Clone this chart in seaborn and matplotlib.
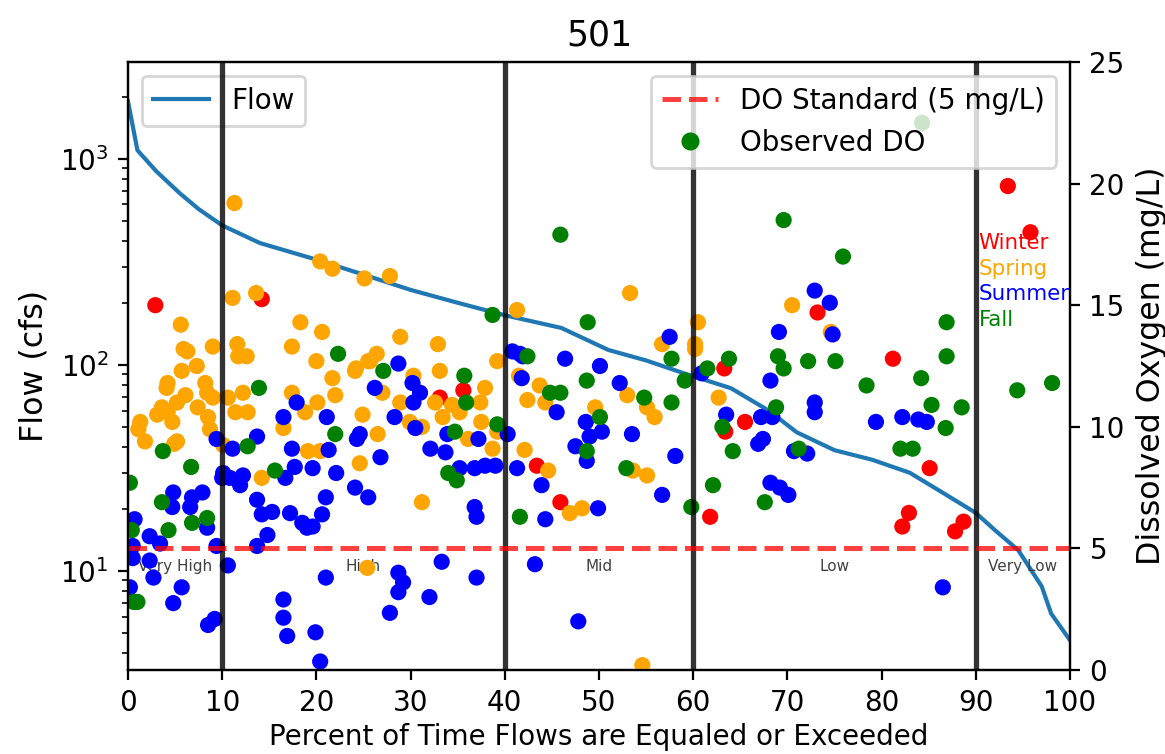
import matplotlib
matplotlib.use("Agg")
import matplotlib.pyplot as plt
from matplotlib.lines import Line2D
import seaborn as sns
import pandas as pd

# ---------------- data ----------------
flow_pct = [0, 1, 3, 5.5, 7.5, 10, 14, 20, 25, 30, 35, 40, 46, 51, 55, 59, 64, 68, 71, 75, 79, 83,
            86, 90, 92, 94.5, 97, 98, 100]
flow_cfs = [1900, 1100, 870, 680, 570, 475, 390, 324, 274, 231, 200, 174, 151, 118, 105, 91, 77, 60,
            47, 38.5, 34.6, 29.9, 24.7, 19.1, 15.8, 12.6, 8.4, 6.2, 4.6]

winter_x = [2.9, 14.2, 33.1, 35.6, 43.4, 45.9, 63.3, 65.5, 63.4, 73.2, 61.8, 81.2, 85.1, 82.9,
            82.2, 88.7, 87.8, 93.4, 95.8]
winter_do = [15.0, 15.25, 11.2, 11.5, 8.4, 6.9, 12.4, 10.2, 9.8, 14.7, 6.3, 12.8, 8.3, 6.46,
             5.9, 6.1, 5.7, 19.9, 18.0]

spring_x = [11.3, 20.4, 21.7, 25.1, 27.8, 11.1, 13.6, 5.6, 18.3, 20.6, 5.9, 6.3, 9.0, 11.6, 12.6,
            11.7, 17.4, 20.0, 24.2, 25.5, 28.9, 32.9, 41.3, 26.4, 25.7, 39.2,
            7.3, 5.7, 4.2, 4.1, 6.1, 5.2, 8.2, 8.4, 9.0, 10.6, 12.2, 3.6, 3.1, 4.2, 4.7, 1.3, 1.1,
            1.8, 7.4, 8.5, 8.7, 5.2, 4.9, 11.4, 12.7, 10.1,
            21.7, 22.0, 24.1, 17.4, 18.8, 20.1, 16.5, 19.1, 20.4, 14.2, 24.6, 24.9, 25.4,
            33.1, 30.3, 27.0, 37.9, 41.5, 43.7, 28.9, 32.6, 34.4, 35.2, 37.4, 33.4, 29.9, 31.2,
            37.5, 39.2, 26.5, 36.1, 38.7, 42.4, 44.3, 42.1, 44.6, 49.6,
            31.2, 46.9, 48.2,
            53.3, 56.7, 60.5, 60.2, 60.2, 53.0, 55.1, 55.9, 62.7, 70.5, 74.6, 53.6, 55.1, 54.6]
spring_do = [19.2, 16.8, 16.5, 16.1, 16.2, 15.3, 15.5, 14.2, 14.3, 13.9, 13.2, 13.1, 13.3, 13.4, 12.9,
             12.9, 13.3, 12.7, 12.4, 12.7, 13.7, 13.4, 14.8, 13.0, 12.7, 12.7,
             12.5, 12.3, 11.8, 11.6, 11.3, 11.0, 11.8, 11.4, 11.2, 11.2, 11.4, 10.8, 10.5, 10.6, 10.2,
             10.2, 9.9, 9.4, 10.8, 10.4, 9.9, 9.4, 9.3, 10.6, 10.6, 9.25,
             12.0, 11.3, 12.3, 11.4, 10.6, 11.0, 9.95, 9.0, 9.0, 7.9, 8.5, 10.5, 4.2,
             12.3, 12.1, 11.4, 11.6, 12.1, 11.7, 11.0, 11.0, 10.9, 10.6, 11.0, 10.4, 10.2, 10.0,
             10.2, 9.8, 9.7, 9.5, 9.1, 11.1, 11.0, 9.05, 8.2, 10.8,
             6.9, 6.45, 6.65,
             15.5, 13.4, 14.3, 13.4, 13.2, 11.3, 10.8, 10.4, 11.2, 15.0, 13.9, 8.2, 8.0, 0.2]

summer_x = [9.4, 11.1, 10.1, 10.0, 10.8, 12.2, 11.9, 13.7, 16.5, 17.9, 17.4, 17.7, 16.7, 19.6, 21.1,
            21.3, 22.1, 24.3, 24.1, 4.8, 6.8, 7.9, 4.7, 6.6, 8.4, 0.7, 2.3, 3.4, 0.5, 0.5, 2.3, 2.7,
            0.2, 5.7, 4.8, 9.2, 8.5, 9.4, 10.6, 13.7, 14.2, 15.3, 14.8, 13.7, 17.2, 18.5, 19.0,
            19.6, 20.6, 21.0, 21.0, 16.5, 16.5, 16.9, 19.9, 20.4, 25.5,
            28.7, 26.2, 30.2, 31.0, 30.3, 28.3, 24.6, 30.5, 33.9, 37.2, 32.1, 33.7, 26.8, 35.2,
            36.8, 37.9, 39.0, 40.8, 41.6, 41.9, 46.4, 41.8, 45.5, 48.6, 49.0, 40.3, 47.5, 48.7,
            41.3, 50.1,
            36.8, 37.0, 43.9, 44.3, 49.9, 33.3, 28.7, 29.2, 28.7, 27.8, 32.0, 37.0, 43.2, 47.8, 50.3,
            57.5, 52.2, 53.5, 58.1, 60.9, 63.5, 67.2, 68.4, 66.9, 67.4, 68.2, 69.1, 72.9, 74.5,
            74.8, 72.9, 72.9, 70.7, 72.1, 68.2, 69.2, 70.1, 56.7,
            79.4, 82.2, 83.9, 84.8, 86.5]
summer_do = [9.5, 9.1, 8.1, 7.9, 7.9, 8.0, 7.6, 9.6, 10.4, 11.0, 9.1, 8.35, 7.9, 8.3, 10.4,
             9.05, 8.1, 9.5, 7.5, 7.3, 7.1, 7.3, 6.7, 6.7, 5.85, 6.2, 5.5, 5.2, 5.1, 4.6, 4.5, 3.8,
             3.4, 3.4, 2.75, 2.1, 1.85, 5.1, 4.3, 7.0, 6.4, 6.5, 5.55, 5.1, 6.45, 6.05, 5.85,
             5.9, 6.4, 7.1, 3.8, 2.9, 2.15, 1.4, 1.55, 0.35, 7.1,
             12.6, 11.6, 11.8, 11.4, 11.0, 10.4, 9.7, 9.95, 9.7, 9.5, 9.1, 8.95, 8.75, 8.3,
             8.3, 8.4, 8.4, 13.1, 13.0, 12.9, 12.8, 12.0, 10.6, 10.2, 9.6, 9.7, 9.2, 8.6,
             8.3, 12.5,
             6.7, 6.3, 7.6, 6.2, 6.65, 4.45, 4.0, 3.6, 3.2, 2.35, 3.0, 3.8, 4.35, 2.0, 9.8,
             13.7, 11.8, 9.7, 8.8, 12.2, 10.5, 10.4, 10.4, 9.3, 9.5, 11.9, 13.9, 15.6, 15.1,
             13.8, 11.0, 10.6, 9.0, 8.9, 7.7, 7.5, 7.2, 7.2,
             10.2, 10.4, 10.3, 10.2, 3.4]

fall_x = [45.9, 69.6, 75.9, 48.8, 38.7, 84.3, 86.9, 86.9, 22.3, 75.1, 78.4, 84.2, 85.3, 88.5, 86.8,
          82.0, 83.3, 94.4, 98.1,
          57.7, 59.1, 54.8, 57.7, 50.1, 52.9, 63.8, 61.5, 69.0, 69.6, 72.2, 68.8, 63.1, 64.2,
          71.2, 62.1, 59.8, 67.6,
          27.1, 35.7, 35.9, 39.2, 34.7, 34.0, 34.9, 41.6, 48.7, 44.8, 45.9, 48.7, 42.4,
          13.9, 22.0, 12.7, 15.6, 3.7, 6.7, 0.2, 3.6, 8.4, 6.8, 4.3, 0.4, 0.6, 1.0]
fall_do = [17.9, 18.5, 17.0, 14.3, 14.6, 22.5, 14.3, 12.9, 13.0, 12.7, 11.7, 12.0, 10.9, 10.8, 9.95,
           9.1, 9.1, 11.5, 11.8,
           12.8, 11.9, 11.2, 11.0, 10.4, 8.3, 12.8, 12.4, 12.9, 12.4, 12.7, 10.8, 10.0, 9.0,
           9.1, 7.6, 6.7, 6.9,
           12.3, 12.1, 11.0, 10.1, 9.8, 8.1, 7.8, 6.3, 11.9, 11.4, 11.4, 9.0, 12.9,
           11.6, 9.7, 9.2, 8.2, 9.0, 8.35, 7.7, 6.9, 6.25, 6.05, 5.75, 5.75, 2.8, 2.8]

seasons = ["Winter", "Spring", "Summer", "Fall"]
season_colors = ["red", "orange", "blue", "green"]
flow_class_edges = [10, 40, 60, 90]
flow_class_labels = ["Very High", "High", "Mid", "Low", "Very Low"]
flow_class_centers = [5, 25, 50, 75, 95]
do_standard = 5
title = "501"

# ---------------- build frames ----------------
flow_df = pd.DataFrame({"pct": flow_pct, "flow": flow_cfs})
do_df = pd.concat([
    pd.DataFrame({"pct": winter_x, "do": winter_do, "season": "Winter"}),
    pd.DataFrame({"pct": spring_x, "do": spring_do, "season": "Spring"}),
    pd.DataFrame({"pct": summer_x, "do": summer_do, "season": "Summer"}),
    pd.DataFrame({"pct": fall_x, "do": fall_do, "season": "Fall"}),
], ignore_index=True)

# ---------------- plot ----------------
fig = plt.figure(figsize=(1165 / 200, 754 / 200), dpi=200)
ax = fig.add_axes([128 / 1165, 84 / 754, 942 / 1165, 608 / 754])

sns.lineplot(data=flow_df, x="pct", y="flow", ax=ax, color="#1f77b4", linewidth=1.5,
             label="Flow", sort=False)
ax.set_yscale("log")
ax.set_ylim(3.3, 2950)
ax.set_xlim(0, 100)
ax.set_xticks(range(0, 101, 10))
ax.set_xlabel("Percent of Time Flows are Equaled or Exceeded", labelpad=2)
ax.set_ylabel("Flow (cfs)", fontsize=11.4)
ax.set_title(title, fontsize=12.5)
ax.legend(loc="upper left")

for cx, lab in zip(flow_class_centers, flow_class_labels):
    ax.text(cx, 10, lab, ha="center", va="baseline", fontsize=5.5, color="0.25")

ax2 = ax.twinx()
ax2.set_ylim(0, 25)
ax2.set_yticks(range(0, 26, 5))
for e in flow_class_edges:
    ax2.axvline(e, color="k", linewidth=1.9, alpha=0.8)
ax2.axhline(do_standard, color="red", linestyle="--", linewidth=1.8, alpha=0.75,
            label="DO Standard (5 mg/L)")
sns.scatterplot(data=do_df, x="pct", y="do", hue="season", hue_order=seasons,
                palette=dict(zip(seasons, season_colors)), s=34, linewidth=0,
                ax=ax2, legend=False)
ax2.set_ylabel("Dissolved Oxygen (mg/L)", fontsize=11.4)
ax2.set_xlabel("")

for i, (sname, col) in enumerate(zip(seasons, season_colors)):
    ax2.text(90.3, 17.55 - i * 1.05, sname, color=col, fontsize=7.7, ha="left", va="center")

h_std = Line2D([], [], color="red", linestyle="--", linewidth=1.8, alpha=0.75)
h_obs = Line2D([], [], color="green", marker="o", linestyle="none", markersize=5.5)
ax2.legend([h_std, h_obs], ["DO Standard (5 mg/L)", "Observed DO"], loc="upper right")

fig.savefig("out.png", dpi=200)
